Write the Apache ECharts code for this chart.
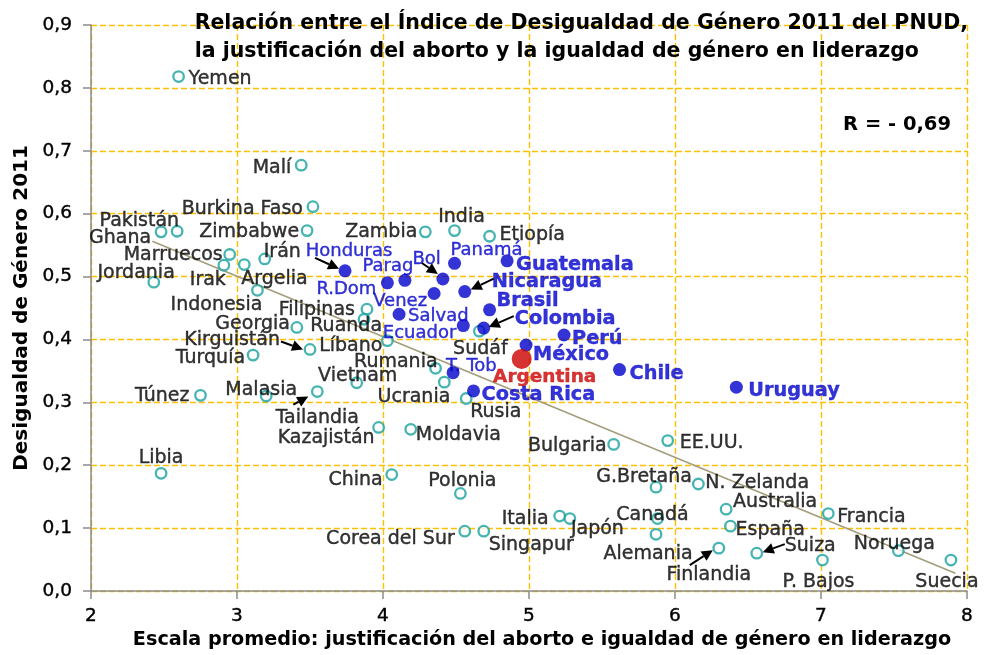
<!DOCTYPE html>
<html><head><meta charset="utf-8">
<script src="https://cdn.jsdelivr.net/npm/echarts/dist/echarts.min.js"></script>
<style>html,body{margin:0;padding:0;background:#fff}#c{width:984px;height:655px}</style>
</head><body><div id="c"></div>
<script>
// ---------- DATA ----------
const xTicks = [2, 3, 4, 5, 6, 7, 8];
const yTicks = [0.0, 0.1, 0.2, 0.3, 0.4, 0.5, 0.6, 0.7, 0.8, 0.9];

const worldNames = ['Yemen','Malí','Burkina Faso','Pakistán','Ghana','Zimbabwe','Zambia','India','Etiopía',
  'Marruecos','Irak','Argelia','Irán','Jordania','Indonesia','Filipinas','Ruanda','Georgia','Sudáf','Líbano',
  'Kirguistán','Turquía','Rumania','Vietnam','Ucrania','Túnez','Malasia','Tailandia','Rusia','Kazajistán',
  'Moldavia','Bulgaria','EE.UU.','Libia','China','Polonia','G.Bretaña','N. Zelanda','Australia','Francia',
  'Italia','Japón','Canadá','España','Corea del Sur','Singapur','Alemania','Finlandia','Noruega','Suiza',
  'P. Bajos','Suecia'];
const worldX = [2.60,3.44,3.52,2.59,2.48,3.48,4.29,4.49,4.73,
  2.95,2.91,3.05,3.19,2.43,3.14,3.89,3.87,3.41,4.66,4.03,
  3.50,3.11,4.36,3.82,4.42,2.75,3.20,3.55,4.57,3.97,
  4.19,5.58,5.95,2.48,4.06,4.53,5.87,6.16,6.35,7.05,
  5.21,5.28,5.88,6.38,4.56,4.69,5.87,6.30,7.53,6.56,
  7.01,7.89];
const worldY = [0.818,0.677,0.611,0.572,0.571,0.573,0.571,0.573,0.564,
  0.535,0.518,0.519,0.528,0.491,0.478,0.448,0.432,0.419,0.413,0.398,
  0.384,0.375,0.354,0.331,0.332,0.311,0.310,0.317,0.306,0.260,
  0.257,0.233,0.239,0.187,0.185,0.155,0.165,0.170,0.130,0.123,
  0.119,0.115,0.115,0.103,0.095,0.095,0.090,0.068,0.064,0.060,
  0.049,0.049];

const latamNames = ['Honduras','R.Dom','Parag','Bol','Panamá','Guatemala','Venez','Nicaragua','Salvad',
  'Brasil','Ecuador','Colombia','Perú','México','T. Tob','Chile','Costa Rica','Uruguay'];
const latamX = [3.74,4.03,4.15,4.41,4.49,4.85,4.35,4.56,4.11,4.73,4.55,4.69,5.24,4.98,4.48,5.62,4.62,6.42];
const latamY = [0.509,0.490,0.494,0.496,0.521,0.525,0.473,0.476,0.440,0.447,0.422,0.418,0.407,0.391,0.347,0.352,0.318,0.324];

const argNames = ['Argentina'];
const argX = [4.95];
const argY = [0.369];

const trendX = [2.42, 7.92];
const trendY = [0.556, 0.028];

const titleLines = ['Relación entre el Índice de Desigualdad de Género 2011 del PNUD,',
                    'la justificación del aborto y la igualdad de género en liderazgo'];
const rText = 'R = - 0,69';
const xName = 'Escala promedio: justificación del aborto e igualdad de género en liderazgo';
const yName = 'Desigualdad de Género 2011';

// ---------- LABEL LAYOUT (align, dx, dy from marker centre, px) ----------
const labelLayout = {
  'Yemen':['left',10,0],'Malí':['right',-10,0],'Burkina Faso':['right',-10,-1],'Pakistán':['right',2,-13],
  'Ghana':['right',-10,3],'Zimbabwe':['right',-8,-2],'Zambia':['right',-8,-3],'India':['center',7,-17],
  'Etiopía':['left',10,-4],'Marruecos':['right',-7,-2],'Irak':['right',2,12],'Argelia':['left',-3,11],
  'Irán':['left',-1,-10],'Jordania':['right',21,-12],'Indonesia':['right',5,12],'Filipinas':['right',-12,-2],
  'Ruanda':['right',18,4],'Georgia':['right',-7,-6],'Sudáf':['center',1,15],'Líbano':['right',-5,2],
  'Kirguistán':['right',-30,-12],'Turquía':['right',-8,0],'Rumania':['right',2,-9],'Vietnam':['center',1,-10],
  'Ucrania':['right',6,12],'Túnez':['right',-11,-2],'Malasia':['center',-5,-9],'Tailandia':['center',0,23],
  'Rusia':['left',4,11],'Kazajistán':['right',-4,8],'Moldavia':['left',5,3],'Bulgaria':['right',-7,-1],
  'EE.UU.':['left',12,-1],'Libia':['center',0,-18],'China':['right',-9,2],'Polonia':['center',2,-15],
  'G.Bretaña':['center',-12,-13],'N. Zelanda':['left',7,-4],'Australia':['left',7,-10],'Francia':['left',9,1],
  'Italia':['right',-11,0],'Japón':['left',1,7],'Canadá':['center',-5,-7],'España':['left',5,1],
  'Corea del Sur':['right',-10,5],'Singapur':['left',5,11],'Alemania':['center',-8,17],'Finlandia':['center',-10,24],
  'Noruega':['center',-4,-10],'Suiza':['left',28,-10],'P. Bajos':['center',-4,19],'Suecia':['center',-4,19],
  'Honduras':['center',4,-23],'R.Dom':['right',-11,4],'Parag':['center',-17,-17],'Bol':['right',-2,-23],
  'Panamá':['left',-4,-16],'Guatemala':['left',9,1],'Venez':['right',-7,5],'Nicaragua':['left',27,-13],
  'Salvad':['left',9,-1],'Brasil':['left',7,-12],'Ecuador':['right',-7,5],'Colombia':['left',31,-12],
  'Perú':['left',8,1],'México':['left',7,7],'T. Tob':['left',-7,-9],'Chile':['left',10,1],
  'Costa Rica':['left',8,1],'Uruguay':['left',12,1],'Argentina':['center',23,15]
};
const boldLatam = ['Guatemala','Nicaragua','Brasil','Colombia','Perú','México','Chile','Costa Rica','Uruguay'];
const BASELINE_SHIFT = 3;

// arrows: target name, start offset, end offset (px)
const arrows = [
  ['Honduras',-30,-13,-6,-2], ['Bol',-21,-16,-5,-5], ['Nicaragua',29,-13,6,-2], ['Colombia',30,-12,5,-1],
  ['Kirguistán',-29,-8,-7,0], ['Tailandia',-24,13,-9,5], ['Finlandia',-29,17,-6,2], ['Suiza',28,-9,6,-1]
];

// ---------- BUILD ----------
const FONT = 'DejaVu Sans';
function mk(names, xs, ys, style) {
  return names.map((n, i) => {
    const L = labelLayout[n] || ['left', 8, 0];
    const st = style(n);
    return {
      name: n, value: [xs[i], ys[i]],
      label: Object.assign({
        show: true, position: 'inside', align: L[0], verticalAlign: 'middle',
        offset: [L[1], L[2] + BASELINE_SHIFT], formatter: '{b}', fontFamily: FONT,
        textBorderColor: st.color, textBorderWidth: 0.4
      }, st)
    };
  });
}
const worldData = mk(worldNames, worldX, worldY, () => ({color: '#000', fontSize: 19}));
const latamData = mk(latamNames, latamX, latamY, n => boldLatam.includes(n)
  ? {color: '#0000CC', fontSize: 19.3, fontWeight: 'bold'}
  : {color: '#0000CC', fontSize: 18});
const argData = mk(argNames, argX, argY, () => ({color: '#CC0000', fontSize: 18.5, fontWeight: 'bold'}));

const allNames = worldNames.concat(latamNames, argNames);
const allX = worldX.concat(latamX, argX);
const allY = worldY.concat(latamY, argY);
const arrowData = arrows.map(a => {
  const i = allNames.indexOf(a[0]);
  return [allX[i], allY[i]];
});

const grid = {lineStyle: {color: '#FFC000', type: [6, 3], width: 1.4}};
const chart = echarts.init(document.getElementById('c'), null, {renderer: 'canvas'});
chart.setOption({
  animation: false,
  backgroundColor: '#fff',
  grid: {left: 91, right: 17, top: 25, bottom: 60.5},
  graphic: [
    {type: 'text', right: 16, top: 10, z: 10, style: {
      text: titleLines.join('\n'), align: 'right', fill: '#000',
      font: 'bold 20.5px "DejaVu Sans"', lineHeight: 28}},
    {type: 'text', right: 33, top: 115, z: 10, style: {
      text: rText, fill: '#000', font: 'bold 19.5px "DejaVu Sans"'}}
  ],
  xAxis: {
    type: 'value', min: 2, max: 8, interval: 1,
    name: xName, nameLocation: 'middle', nameGap: 40,
    nameTextStyle: {fontFamily: FONT, fontWeight: 'bold', fontSize: 19.2, color: '#000', padding: [0, 0, 0, 26]},
    axisLine: {show: true, lineStyle: {color: '#8C8C8C', width: 1.5}},
    axisTick: {show: true, length: 8, lineStyle: {color: '#8C8C8C', width: 1.5}},
    axisLabel: {fontFamily: FONT, fontSize: 18.5, color: '#000', margin: 16,
      textBorderColor: '#000', textBorderWidth: 0.4,
      formatter: v => xTicks.includes(v) ? String(v) : ''},
    splitLine: Object.assign({show: true}, grid)
  },
  yAxis: {
    type: 'value', min: 0, max: 0.9, interval: 0.1,
    name: yName, nameLocation: 'middle', nameGap: 58, nameRotate: 90,
    nameTextStyle: {fontFamily: FONT, fontWeight: 'bold', fontSize: 20, color: '#000'},
    axisLine: {show: true, lineStyle: {color: '#8C8C8C', width: 1.5}},
    axisTick: {show: true, length: 8, lineStyle: {color: '#8C8C8C', width: 1.5}},
    axisLabel: {fontFamily: FONT, fontSize: 18.5, color: '#000', margin: 19, padding: [4, 0, 0, 0],
      textBorderColor: '#000', textBorderWidth: 0.4,
      formatter: v => yTicks.find(t => Math.abs(t - v) < 1e-6) !== undefined ? v.toFixed(1).replace('.', ',') : ''},
    splitLine: Object.assign({show: true}, grid)
  },
  series: [
    {type: 'line', z: 1, data: trendX.map((x, i) => [x, trendY[i]]), symbol: 'none',
      lineStyle: {color: '#A39D7C', width: 1.6}, silent: true},
    {type: 'scatter', z: 2, data: worldData, symbol: 'circle', symbolSize: 10.5,
      itemStyle: {color: '#fff', borderColor: '#18A19D', borderWidth: 2.3}},
    {type: 'scatter', z: 3, data: latamData, symbol: 'circle', symbolSize: 13,
      itemStyle: {color: '#0000CC'}},
    {type: 'scatter', z: 4, data: argData, symbol: 'circle', symbolSize: 20,
      itemStyle: {color: '#CC0000'}},
    {type: 'custom', z: 6, silent: true, data: arrowData,
      encode: {x: 0, y: 1},
      renderItem: (params, api) => {
        const p = api.coord([api.value(0), api.value(1)]);
        const a = arrows[params.dataIndex];
        const sx = p[0] + a[1], sy = p[1] + a[2], ex = p[0] + a[3], ey = p[1] + a[4];
        const ang = Math.atan2(ey - sy, ex - sx);
        const hl = 11, hw = 5.5;
        const bx = ex - hl * Math.cos(ang), by = ey - hl * Math.sin(ang);
        const nx = -Math.sin(ang) * hw, ny = Math.cos(ang) * hw;
        return {type: 'group', children: [
          {type: 'line', shape: {x1: sx, y1: sy, x2: bx, y2: by}, style: {stroke: '#000', lineWidth: 2}},
          {type: 'polygon', shape: {points: [[ex, ey], [bx + nx, by + ny], [bx - nx, by - ny]]}, style: {fill: '#000'}}
        ]};
      }}
  ]
});
</script>
</body></html>
